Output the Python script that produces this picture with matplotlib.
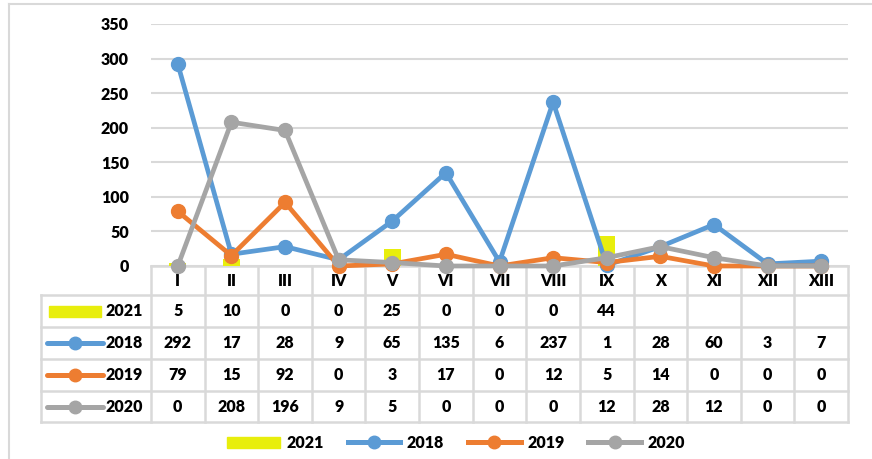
import matplotlib
matplotlib.use("Agg")
import matplotlib.pyplot as plt
from matplotlib.lines import Line2D
from matplotlib.patches import Patch, Rectangle

# data
categories = ["I", "II", "III", "IV", "V", "VI", "VII", "VIII", "IX", "X", "XI", "XII", "XIII"]
v2021 = [5, 10, 0, 0, 25, 0, 0, 0, 44]
v2018 = [292, 17, 28, 9, 65, 135, 6, 237, 1, 28, 60, 3, 7]
v2019 = [79, 15, 92, 0, 3, 17, 0, 12, 5, 14, 0, 0, 0]
v2020 = [0, 208, 196, 9, 5, 0, 0, 0, 12, 28, 12, 0, 0]

YELLOW = "#E8EE0C"
BLUE = "#5B9BD5"
ORANGE = "#ED7D31"
GRAY = "#A5A5A5"
GRID = "#D9D9D9"

plt.rcParams["font.family"] = ["Lato", "DejaVu Sans"]
plt.rcParams["font.weight"] = "heavy"
plt.rcParams["font.size"] = 11.5

W, H = 872, 459
fig = plt.figure(figsize=(W / 100, H / 100), dpi=100)

# outer chart border (top and left visible)
fig.add_artist(Line2D([9 / W, 1], [1 - 4 / H, 1 - 4 / H], color=GRID, lw=1.5))
fig.add_artist(Line2D([9 / W, 9 / W], [0, 1 - 4 / H], color=GRID, lw=1.5))

# main plot
ax = fig.add_axes([151 / W, 1 - 266 / H, (848 - 151) / W, (266 - 24) / H])
ax.set_zorder(2)
ax.patch.set_visible(False)
ax.set_xlim(-0.5, len(categories) - 0.5)
ax.set_ylim(0, 350)
ax.set_yticks(range(0, 351, 50))
ax.set_xticks([])
ax.grid(axis="y", color=GRID, lw=1.5)
ax.set_axisbelow(True)
for s in ax.spines.values():
    s.set_visible(False)
ax.tick_params(axis="y", length=0, pad=16)

x = list(range(len(categories)))
ax.bar(range(len(v2021)), v2021, width=0.32, color=YELLOW, zorder=2)
series = [("2018", v2018, BLUE), ("2019", v2019, ORANGE), ("2020", v2020, GRAY)]
for name, vals, col in series:
    ax.plot(x, vals, color=col, lw=3.4, marker="o", ms=10, zorder=3, clip_on=False)

# data table below the plot
col_w = (848 - 151) / len(categories)
lab_w = (151 - 41) / col_w
tax = fig.add_axes([41 / W, 1 - 422 / H, (848 - 41) / W, (422 - 266) / H])
tax.set_zorder(1)
tax.set_xlim(-0.5 - lab_w, len(categories) - 0.5)
tax.set_ylim(156, 0)
tax.axis("off")

rows = [0, 29, 61, 93, 125, 156]
xl, xr = -0.5 - lab_w, len(categories) - 0.5
tax.plot([-0.5, xr], [0, 0], color=GRID, lw=1.8, clip_on=False)
for r in rows[1:]:
    tax.plot([xl, xr], [r, r], color=GRID, lw=1.8, clip_on=False)
for k in range(len(categories) + 1):
    tax.plot([-0.5 + k, -0.5 + k], [0, 156], color=GRID, lw=1.8, clip_on=False)
tax.plot([xl, xl], [29, 156], color=GRID, lw=1.8, clip_on=False)

for i, c in enumerate(categories):
    tax.text(i, (rows[0] + rows[1]) / 2, c, ha="center", va="center")

table_rows = [("2021", v2021, YELLOW, "bar"),
              ("2018", v2018, BLUE, "line"),
              ("2019", v2019, ORANGE, "line"),
              ("2020", v2020, GRAY, "line")]
kx0 = xl + 6 / col_w
kx1 = xl + 62 / col_w
for j, (name, vals, col, kind) in enumerate(table_rows):
    yc = (rows[j + 1] + rows[j + 2]) / 2
    if kind == "bar":
        tax.add_patch(Rectangle((xl + 8 / col_w, yc - 5.5), 52 / col_w, 11, color=col))
    else:
        tax.plot([kx0, kx1], [yc, yc], color=col, lw=3.6, solid_capstyle="round")
        tax.plot([(kx0 + kx1) / 2], [yc], "o", color=col, ms=9)
    tax.text(kx1 + 3 / col_w, yc, name, ha="left", va="center")
    for i, v in enumerate(vals):
        tax.text(i, yc, str(v), ha="center", va="center")

# legend
handles = [Patch(color=YELLOW)]
for name, vals, col in series:
    handles.append(Line2D([0], [0], color=col, lw=3.6, marker="o", ms=9))
fig.legend(handles, ["2021", "2018", "2019", "2020"], loc="center",
           bbox_to_anchor=(456 / W, 1 - 443 / H), ncol=4, frameon=False,
           handlelength=3.3, handletextpad=0.4, columnspacing=1.5,
           handleheight=0.7)

fig.savefig("out.png", dpi=100)
